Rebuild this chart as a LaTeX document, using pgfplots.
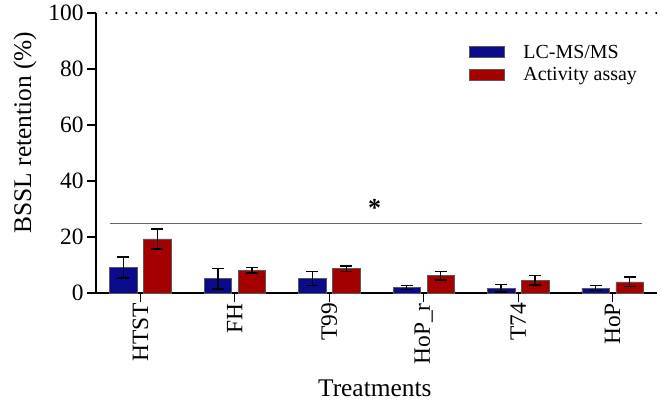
\documentclass[border=0pt]{standalone}
\usepackage{pgfplots}
\pgfplotsset{compat=1.18}
\usepackage{fontspec}
\setmainfont{Liberation Serif}

\definecolor{lcblue}{HTML}{0A0A8C}
\definecolor{actred}{HTML}{A50000}

\begin{document}
\begin{tikzpicture}[x=1bp,y=1bp]
\useasboundingbox (-96bp,-108bp) rectangle (565bp,293bp);
\begin{axis}[
    at={(0,0)}, anchor=south west,
    scale only axis,
    width=561bp, height=280bp,
    xmin=-0.47, xmax=5.47,
    ymin=0, ymax=100,
    axis lines=left,
    axis line style={-, line width=1.2bp},
    ybar, bar width=0.29,
    xtick={0,1,2,3,4,5},
    xticklabels={HTST,FH,T99,HoP\_r,T74,HoP},
    x tick label style={rotate=90, anchor=east, inner sep=1bp},
    ytick={0,20,40,60,80,100},
    tick align=outside,
    major tick length=9bp,
    tick style={line width=1.2bp, black},
    ticklabel style={font=\fontsize{23.5}{26}\selectfont},
    /pgf/number format/assume math mode=true,
    ylabel={BSSL retention (\%)},
    xlabel={Treatments},
    every axis y label/.style={at={(axis description cs:-0.1266,0.573)}, rotate=90,
        anchor=center, font=\fontsize{25.5}{28}\selectfont},
    every axis x label/.style={at={(axis description cs:0.497,-0.368)}, anchor=base,
        font=\fontsize{25.5}{28}\selectfont},
    legend cell align=left,
    legend style={draw=none, fill=none, at={(axis cs:3.482,89.2)}, anchor=north west,
        font=\fontsize{20}{22}\selectfont, row sep=5bp,
        inner sep=0bp, nodes={inner sep=1.5bp}},
    legend image code/.code={\draw[#1] (0bp,-5bp) rectangle (35bp,6bp);},
    error bars/error bar style={line width=1.4bp, black},
    error bars/error mark options={rotate=90, mark size=6bp, line width=1.4bp, black},
]
\addplot[bar shift=-0.18, fill=lcblue, draw=gray!70!black, line width=0.5bp,
    error bars/.cd, y dir=both, y explicit]
  coordinates {
    (0,9.1) +- (0,3.7)
    (1,5.1) +- (0,3.6)
    (2,5.1) +- (0,2.5)
    (3,2.0) +- (0,0.7)
    (4,1.7) +- (0,1.3)
    (5,1.7) +- (0,0.9)
  };
\addlegendentry{\hspace{17bp}LC-MS/MS}
\addplot[bar shift=0.18, fill=actred, draw=gray!70!black, line width=0.5bp,
    error bars/.cd, y dir=both, y explicit]
  coordinates {
    (0,19.3) +- (0,3.6)
    (1,8.1) +- (0,1.0)
    (2,8.7) +- (0,1.0)
    (3,6.2) +- (0,1.5)
    (4,4.6) +- (0,1.7)
    (5,4.0) +- (0,1.7)
  };
\addlegendentry{\hspace{17bp}Activity assay}
\draw[line width=2.4bp, dash pattern=on 0bp off 10bp, line cap=round]
  (axis cs:-0.36,100) -- (axis cs:5.47,100);
\draw[gray!80!black, line width=1bp] (axis cs:-0.32,24.8) -- (axis cs:5.31,24.8);
\node[font=\bfseries\fontsize{26}{26}\selectfont] at (axis cs:2.48,30.5) {*};
\end{axis}
\end{tikzpicture}
\end{document}
